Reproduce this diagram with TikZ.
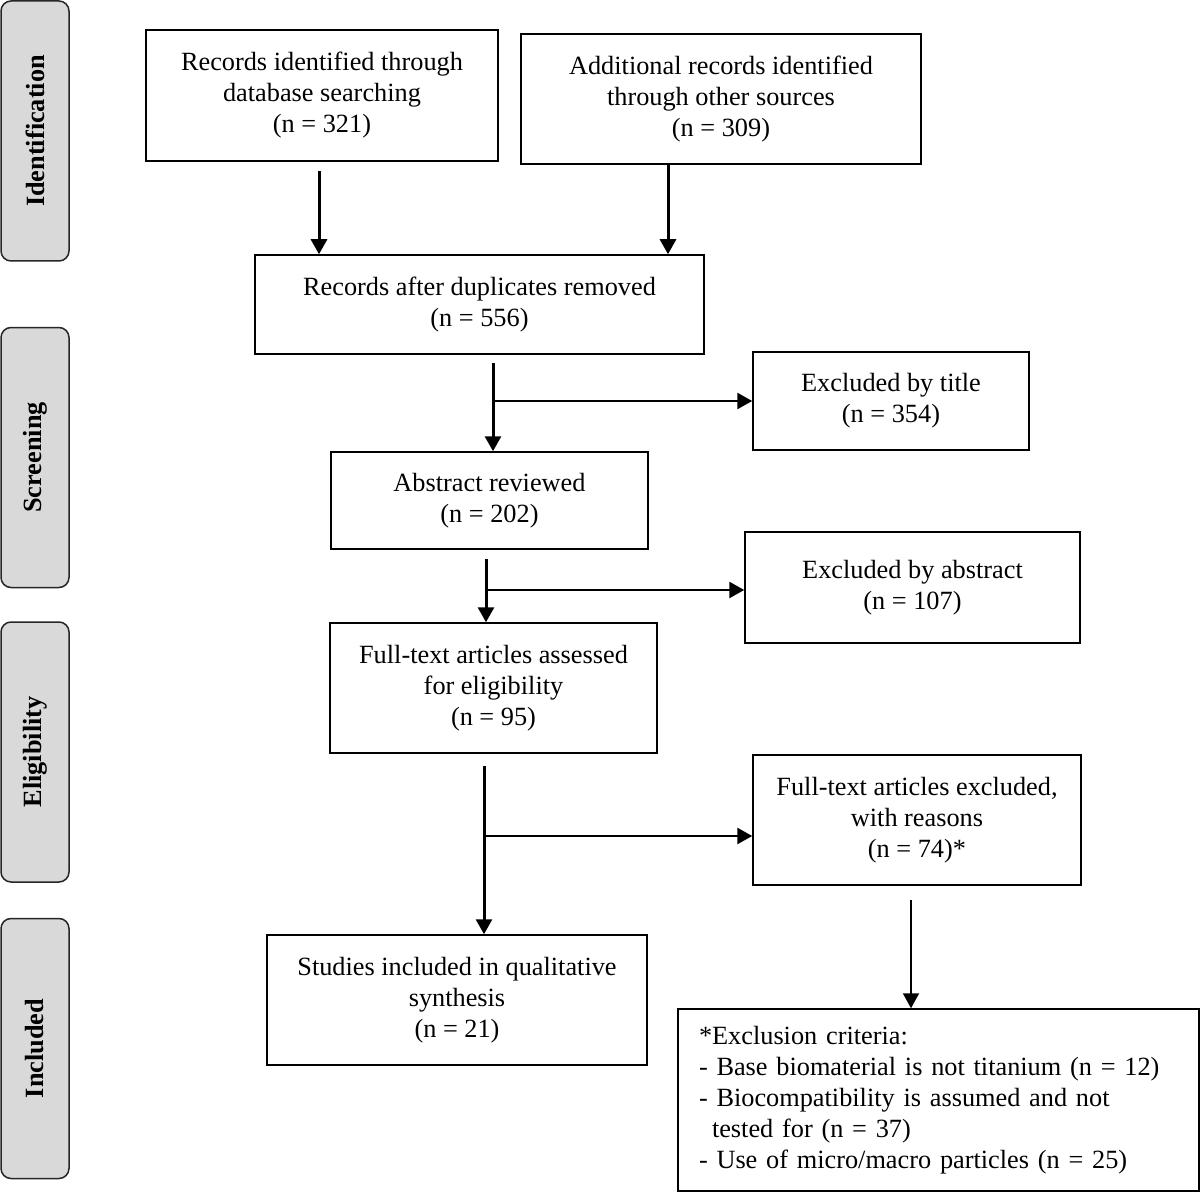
\documentclass[tikz,border=0pt]{standalone}
\usepackage{fontspec}
\setmainfont{Liberation Serif}
\usetikzlibrary{arrows.meta,calc}
\begin{document}
\begin{tikzpicture}[x=1pt,y=-1pt,
  box/.style={draw=black, line width=1.5pt, fill=white, inner sep=0pt, align=center,
    font=\fontsize{26.3}{31}\selectfont},
  side/.style={draw=black!85, line width=1.5pt, fill=gray!30, rounded corners=10pt,
    inner sep=0pt, rotate=90, minimum width=260pt, minimum height=68pt,
    font=\fontsize{26.3}{31}\selectfont\bfseries},
  tip/.style={-{Triangle[length=15pt,width=16pt]}},
  arr/.style={line width=3pt, tip},
  harr/.style={line width=2.5pt, tip},
]
\useasboundingbox (0,0) rectangle (1200,1193);

% side labels
\node[side] (s1) at (35,131) {Identification};
\node[side] (s2) at (35,457.5) {Screening};
\node[side] (s3) at (35,752) {Eligibility};
\node[side] (s4) at (35,1048.5) {Included};

% boxes
\node[box, minimum width=352pt, minimum height=131pt] (b1) at (322,95.5)
  {Records identified through\\database searching\\(n = 321)};
\node[box, minimum width=400pt, minimum height=130pt] (b2) at (721,99)
  {Additional records identified\\through other sources\\(n = 309)};
\node[box, minimum width=449pt, minimum height=99pt] (b3) at (479.5,304.5)
  {Records after duplicates removed\\(n = 556)};
\node[box, minimum width=276pt, minimum height=98pt] (b4) at (891,401)
  {Excluded by title\\(n = 354)};
\node[box, minimum width=317pt, minimum height=97pt] (b5) at (489.5,500.5)
  {Abstract reviewed\\(n = 202)};
\node[box, minimum width=335pt, minimum height=111pt] (b6) at (912.5,587.5)
  {Excluded by abstract\\(n = 107)};
\node[box, minimum width=327pt, minimum height=130pt] (b7) at (493.5,688)
  {Full-text articles assessed\\for eligibility\\(n = 95)};
\node[box, minimum width=328pt, minimum height=130pt] (b8) at (917,820)
  {Full-text articles excluded,\\with reasons\\(n = 74)*};
\node[box, minimum width=380pt, minimum height=130pt] (b9) at (457,1000)
  {Studies included in qualitative\\synthesis\\(n = 21)};
\node[box, align=left, text width=479pt, inner xsep=21pt, minimum height=182pt] (b10) at (938.5,1100)
  {*Exclusion criteria:\\- Base biomaterial is not titanium (n = 12)\\- Biocompatibility is assumed and not\\\hspace*{13pt}tested for (n = 37)\\- Use of micro/macro particles (n = 25)};

% connector coordinates
\coordinate (a1) at (319,171);
\coordinate (a2) at (668,164);
\coordinate (a3) at (493,363);
\coordinate (j3) at (493,401);
\coordinate (a4) at (486,559);
\coordinate (j4) at (486,590);
\coordinate (a5) at (484,766);
\coordinate (j5) at (484,836);
\coordinate (a6) at (911,900);

% connectors
\draw[arr] (a1) -- (a1 |- b3.north);
\draw[arr] (a2) -- (a2 |- b3.north);
\draw[arr] (a3) -- (a3 |- b5.north);
\draw[harr] (j3) -- (j3 -| b4.west);
\draw[arr] (a4) -- (a4 |- b7.north);
\draw[harr] (j4) -- (j4 -| b6.west);
\draw[arr] (a5) -- (a5 |- b9.north);
\draw[harr] (j5) -- (j5 -| b8.west);
\draw[line width=2pt, tip] (a6) -- (a6 |- b10.north);
\end{tikzpicture}
\end{document}
